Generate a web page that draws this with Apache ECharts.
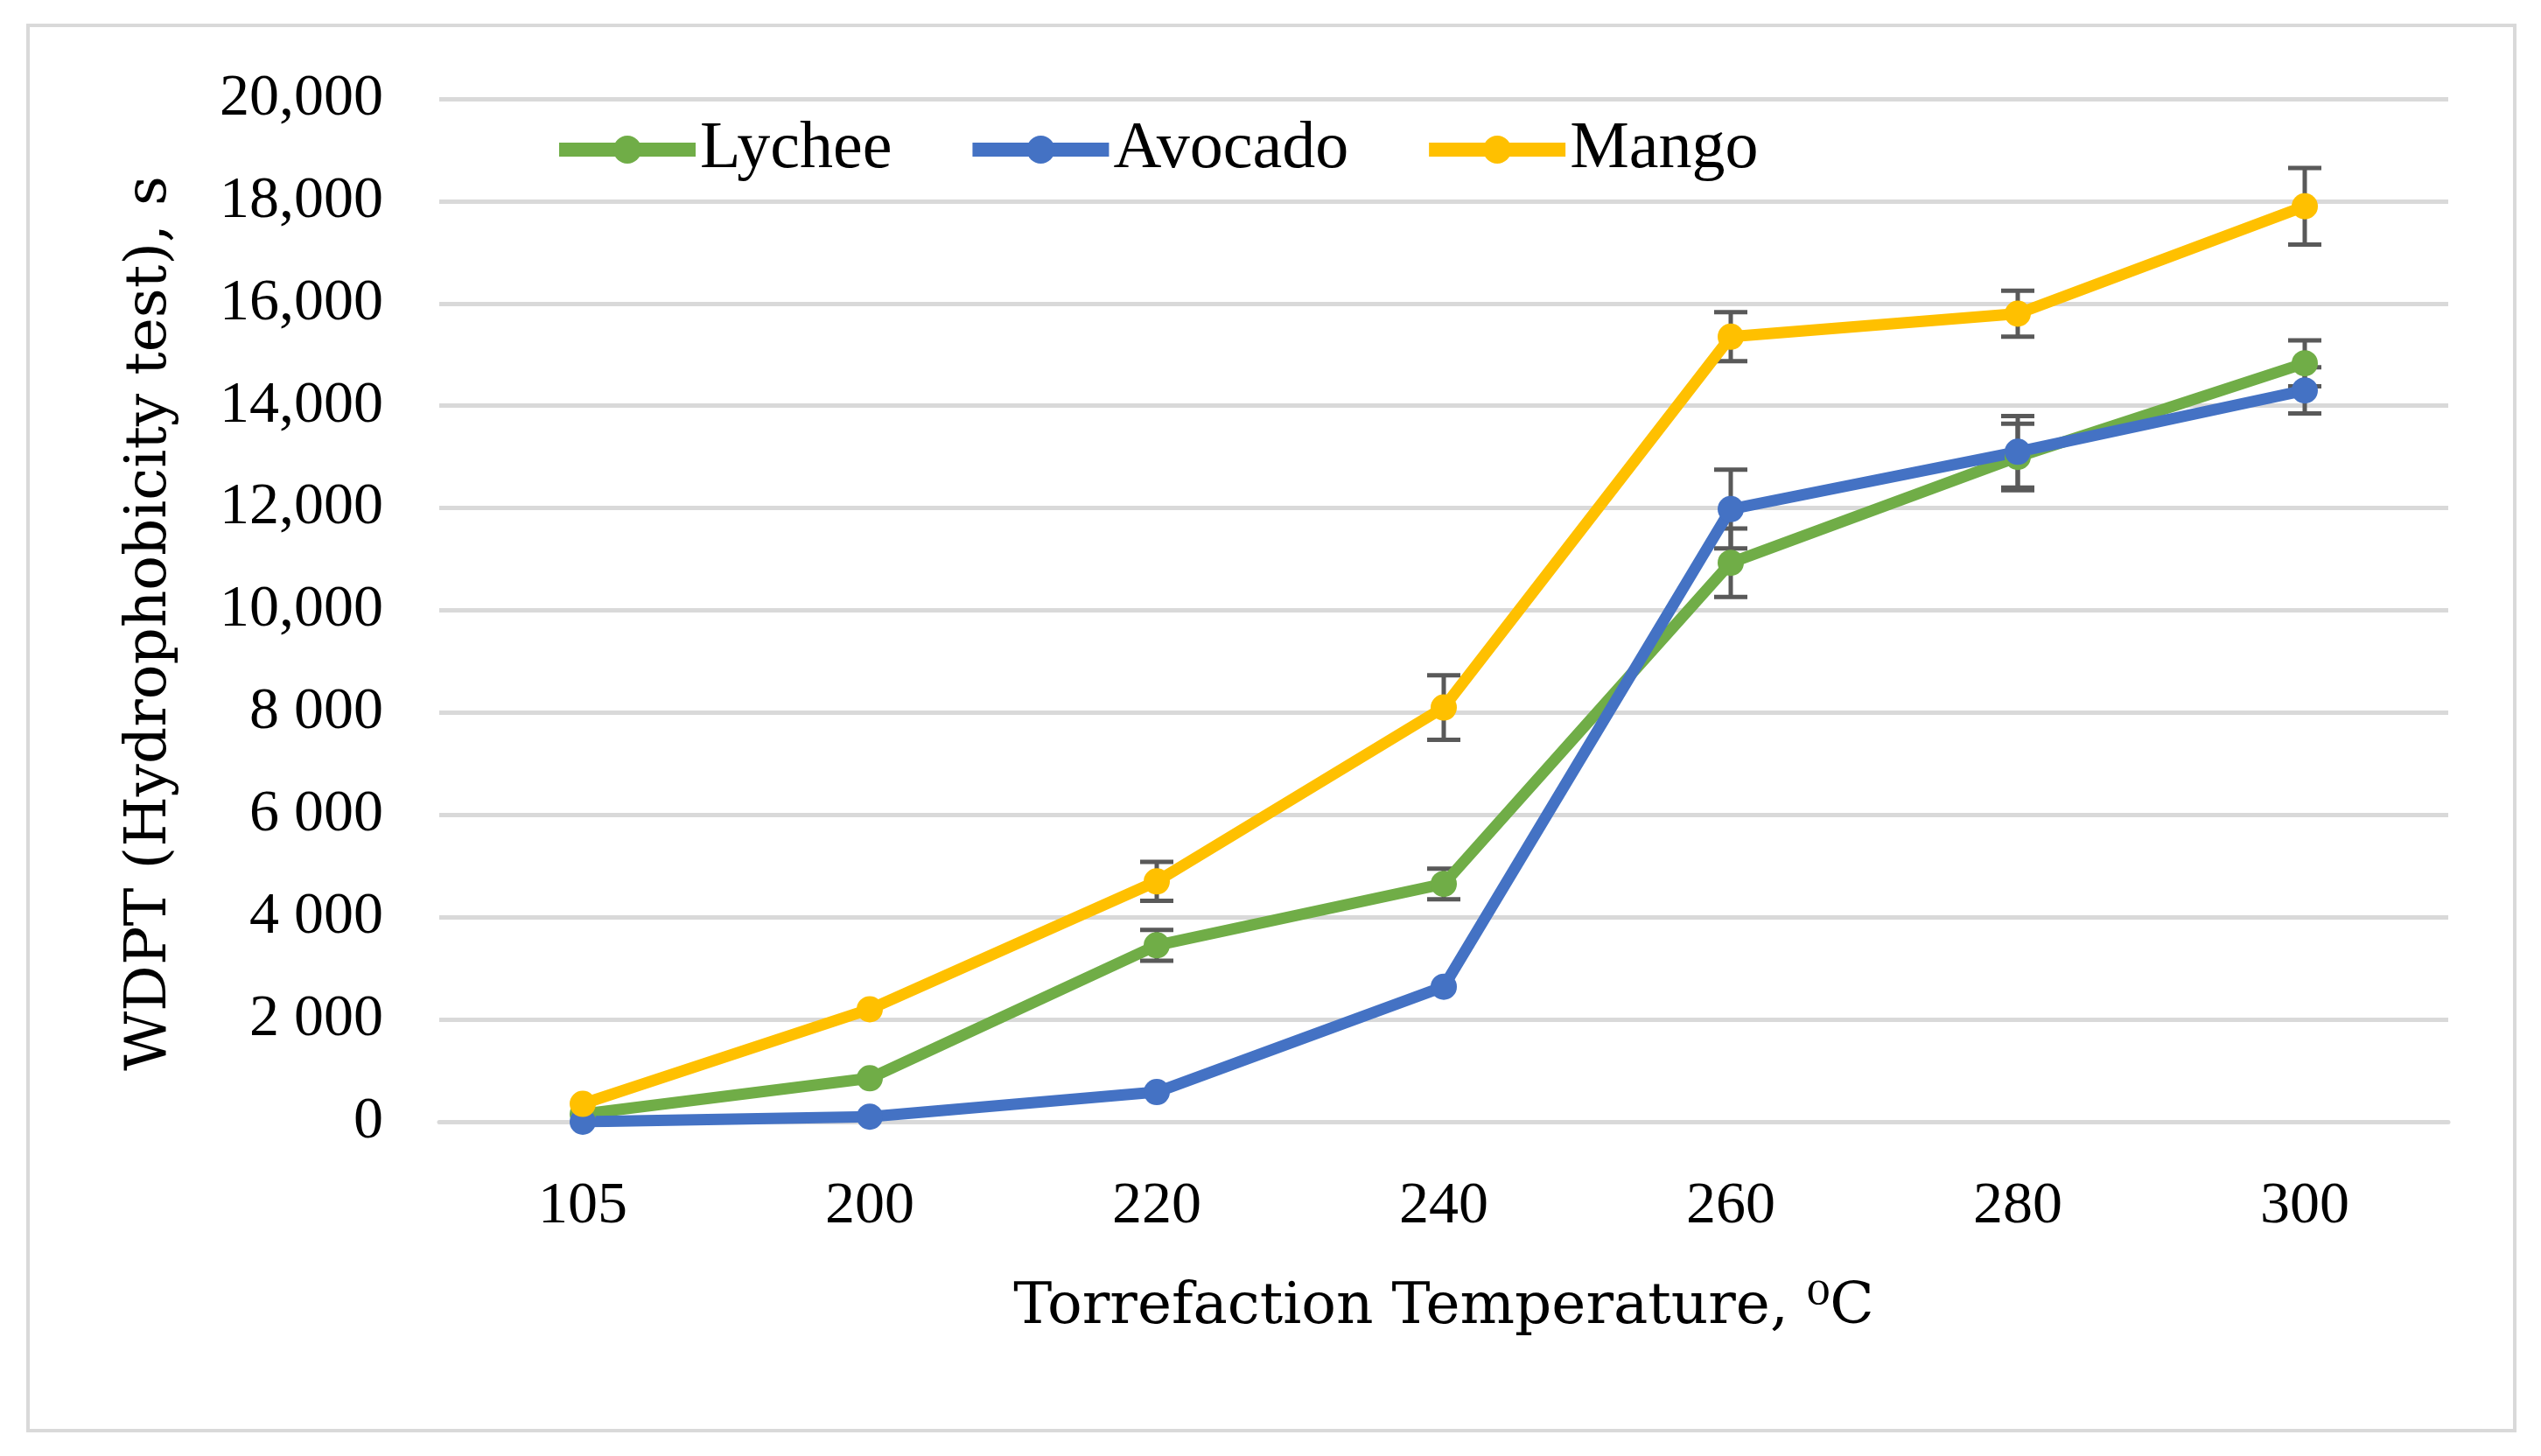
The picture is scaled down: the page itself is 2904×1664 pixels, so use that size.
<!DOCTYPE html>
<html>
<head>
<meta charset="utf-8">
<script src="https://cdn.jsdelivr.net/npm/echarts@6/dist/echarts.min.js"></script>
<style>
html,body{margin:0;padding:0;background:#fff;}
#chart{width:2904px;height:1664px;}
</style>
</head>
<body>
<div id="chart"></div>
<script>
const categories = ['105', '200', '220', '240', '260', '280', '300'];
const lychee = [150, 850, 3450, 4650, 10930, 13000, 14830];
const lycheeErr = [0, 0, 300, 300, 670, 650, 450];
const avocado = [0, 100, 580, 2640, 11980, 13100, 14300];
const avocadoErr = [0, 0, 0, 0, 770, 700, 450];
const mango = [350, 2200, 4700, 8100, 15350, 15800, 17900];
const mangoErr = [0, 0, 380, 630, 480, 450, 750];
const yTickLabels = ['0', '2 000', '4 000', '6 000', '8 000', '10,000', '12,000', '14,000', '16,000', '18,000', '20,000'];

const colors = { Lychee: '#70ad47', Avocado: '#4472c4', Mango: '#ffc000' };
const serif = 'Liberation Serif';

function errData(vals, errs) {
  return vals.map((v, i) => [i, v, errs[i]]);
}

function errSeries(name, vals, errs) {
  return {
    type: 'custom',
    name: name + ' err',
    z: 1,
    silent: true,
    data: errData(vals, errs),
    encode: { x: 0, y: 1 },
    renderItem: function (params, api) {
      const i = api.value(0), v = api.value(1), e = api.value(2);
      if (!e) return null;
      const hi = api.coord([i, v + e]);
      const lo = api.coord([i, v - e]);
      const cap = 19;
      const st = { stroke: '#595959', lineWidth: 5 };
      return {
        type: 'group',
        children: [
          { type: 'line', shape: { x1: hi[0], y1: hi[1], x2: lo[0], y2: lo[1] }, style: st },
          { type: 'line', shape: { x1: hi[0] - cap, y1: hi[1], x2: hi[0] + cap, y2: hi[1] }, style: st },
          { type: 'line', shape: { x1: lo[0] - cap, y1: lo[1], x2: lo[0] + cap, y2: lo[1] }, style: st }
        ]
      };
    }
  };
}

function lineSeries(name, vals) {
  return {
    type: 'line',
    name: name,
    z: 3,
    data: vals,
    symbol: 'circle',
    symbolSize: 30,
    showAllSymbol: true,
    color: colors[name],
    lineStyle: { width: 13, color: colors[name] },
    itemStyle: { color: colors[name] },
    emphasis: { disabled: true }
  };
}

const chart = echarts.init(document.getElementById('chart'));
chart.setOption({
  animation: false,
  backgroundColor: '#ffffff',
  graphic: [{
    type: 'rect',
    shape: { x: 32, y: 29, width: 2842, height: 1606 },
    style: { fill: 'none', stroke: '#d9d9d9', lineWidth: 4 },
    z: -1
  }],
  grid: { left: 502, right: 106, top: 113, bottom: 382 },
  legend: {
    data: ['Lychee', 'Avocado', 'Mango'],
    left: 626,
    top: 128,
    itemWidth: 156,
    itemHeight: 40,
    itemGap: 84,
    lineStyle: { width: 16 },
    textStyle: { fontFamily: serif, fontSize: 76, color: '#000' }
  },
  xAxis: {
    type: 'category',
    data: categories,
    boundaryGap: true,
    axisLine: { show: true, lineStyle: { color: '#d9d9d9', width: 5 } },
    axisTick: { show: false },
    axisLabel: { fontFamily: serif, fontSize: 68, color: '#000', margin: 63 },
    name: 'Torrefaction Temperature, ⁰C',
    nameLocation: 'middle',
    nameGap: 180,
    nameTextStyle: { fontFamily: 'DejaVu Serif', fontSize: 66, color: '#000' }
  },
  yAxis: {
    type: 'value',
    min: 0,
    max: 20000,
    interval: 2000,
    axisLine: { show: false },
    axisTick: { show: false },
    splitLine: { lineStyle: { color: '#d9d9d9', width: 5 } },
    axisLabel: {
      fontFamily: serif, fontSize: 68, color: '#000', margin: 64,
      formatter: function (v) { return yTickLabels[Math.round(v / 2000)]; }
    },
    name: 'WDPT (Hydrophobicity test), s',
    nameLocation: 'middle',
    nameGap: 297,
    nameTextStyle: { fontFamily: 'DejaVu Serif', fontSize: 66, color: '#000', padding: [0, 30, 0, 0] }
  },
  series: [
    errSeries('Lychee', lychee, lycheeErr),
    errSeries('Avocado', avocado, avocadoErr),
    errSeries('Mango', mango, mangoErr),
    lineSeries('Lychee', lychee),
    lineSeries('Avocado', avocado),
    lineSeries('Mango', mango)
  ]
});
</script>
</body>
</html>
